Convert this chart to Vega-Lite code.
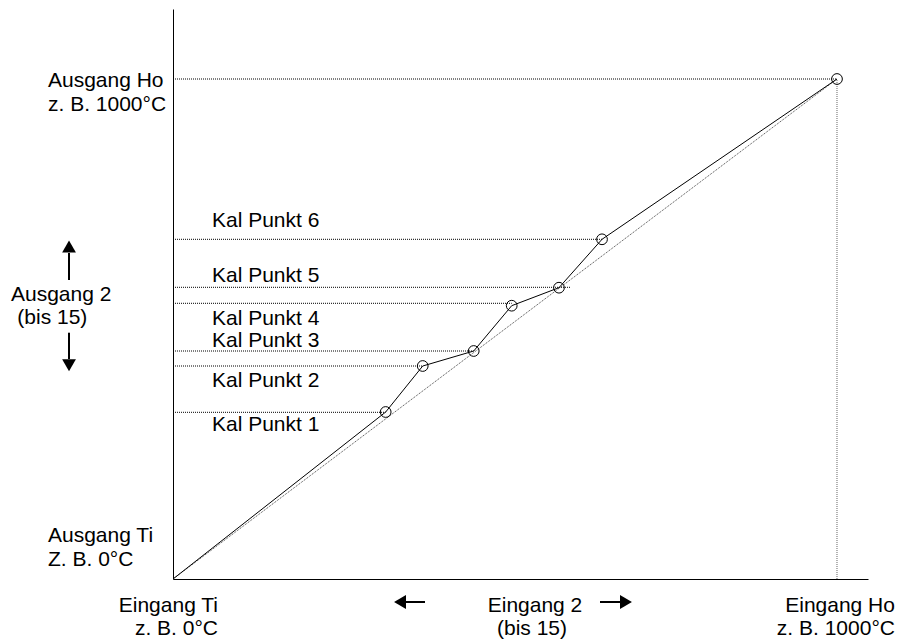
{
  "$schema": "https://vega.github.io/schema/vega-lite/v6.json",
  "width": 695,
  "height": 570,
  "autosize": {"type": "none"},
  "padding": {"left": 173, "top": 9, "right": 32, "bottom": 60},
  "background": "white",
  "config": {
    "view": {"stroke": null},
    "text": {"font": "Liberation Sans", "fontSize": 21, "color": "#000"}
  },
  "datasets": {
    "kal": [
      {"x": 0, "y": 0},
      {"x": 320.3, "y": 334},
      {"x": 376.1, "y": 426},
      {"x": 452.9, "y": 456},
      {"x": 510.1, "y": 546.6},
      {"x": 581.3, "y": 582.6},
      {"x": 646.1, "y": 679.4},
      {"x": 1000, "y": 1000}
    ],
    "diag": [{"x": 0, "y": 0}, {"x": 1000, "y": 1000}],
    "hlines": [
      {"x": 0, "x2": 1000, "y": 1000},
      {"x": 0, "x2": 646.1, "y": 679.4},
      {"x": 0, "x2": 597.9, "y": 583.4},
      {"x": 0, "x2": 510.1, "y": 551.4},
      {"x": 0, "x2": 452.9, "y": 456},
      {"x": 0, "x2": 376.1, "y": 426},
      {"x": 0, "x2": 320.3, "y": 333.4}
    ],
    "vline": [{"x": 1000, "y": 0, "y2": 1000}],
    "vshafts": [
      {"x": -156.6, "y": 598, "y2": 652},
      {"x": -156.6, "y": 492.6, "y2": 440}
    ],
    "hshafts": [
      {"x": 350.9, "x2": 379.5, "y": -46},
      {"x": 643.1, "x2": 673.2, "y": -46}
    ],
    "heads": [
      {"x": -156.6, "y": 665, "dir": "up"},
      {"x": -156.6, "y": 427.4, "dir": "down"},
      {"x": 341.9, "y": -46, "dir": "left"},
      {"x": 682.2, "y": -46, "dir": "right"}
    ],
    "textLeft": [
      {"x": -188.3, "y": 984, "label": "Ausgang Ho"},
      {"x": -188.3, "y": 937, "label": "z. B. 1000°C"},
      {"x": -188.3, "y": 73.4, "label": "Ausgang Ti"},
      {"x": -188.3, "y": 26.6, "label": "Z. B. 0°C"},
      {"x": -244, "y": 556, "label": "Ausgang 2"},
      {"x": -234.5, "y": 510, "label": "(bis 15)"},
      {"x": 58.7, "y": 704.6, "label": "Kal Punkt 6"},
      {"x": 58.7, "y": 594.6, "label": "Kal Punkt 5"},
      {"x": 58.7, "y": 509, "label": "Kal Punkt 4"},
      {"x": 58.7, "y": 463.6, "label": "Kal Punkt 3"},
      {"x": 58.7, "y": 384.6, "label": "Kal Punkt 2"},
      {"x": 58.7, "y": 296, "label": "Kal Punkt 1"}
    ],
    "textRight": [
      {"x": 67.8, "y": -66, "label": "Eingang Ti"},
      {"x": 67.8, "y": -112, "label": "z. B. 0°C"},
      {"x": 1087.3, "y": -66, "label": "Eingang Ho"},
      {"x": 1087.3, "y": -112, "label": "z. B. 1000°C"}
    ],
    "textCenter": [
      {"x": 545.2, "y": -66, "label": "Eingang 2"},
      {"x": 540.7, "y": -112, "label": "(bis 15)"}
    ]
  },
  "encoding": {
    "x": {
      "field": "x",
      "type": "quantitative",
      "scale": {"domain": [0, 1046.7], "nice": false, "zero": false},
      "axis": {"domain": true, "ticks": false, "labels": false, "grid": false, "title": null, "domainColor": "#000", "domainWidth": 1}
    },
    "y": {
      "field": "y",
      "type": "quantitative",
      "scale": {"domain": [0, 1140], "nice": false, "zero": false},
      "axis": {"domain": true, "ticks": false, "labels": false, "grid": false, "title": null, "domainColor": "#000", "domainWidth": 1}
    }
  },
  "layer": [
    {
      "data": {"name": "hlines"},
      "mark": {"type": "rule", "color": "#000", "strokeWidth": 1, "strokeDash": [1, 1]},
      "encoding": {"x2": {"field": "x2"}}
    },
    {
      "data": {"name": "vline"},
      "mark": {"type": "rule", "color": "#666", "strokeWidth": 1, "strokeDash": [1, 1]},
      "encoding": {"y2": {"field": "y2"}}
    },
    {
      "data": {"name": "diag"},
      "mark": {"type": "line", "color": "#444", "strokeWidth": 1, "strokeDash": [1, 1]},
      "encoding": {}
    },
    {
      "data": {"name": "kal"},
      "mark": {"type": "line", "color": "#000", "strokeWidth": 1},
      "encoding": {}
    },
    {
      "data": {"name": "kal"},
      "transform": [{"filter": "datum.x > 0"}],
      "mark": {"type": "point", "shape": "circle", "filled": false, "stroke": "#000", "strokeWidth": 1, "size": 115, "opacity": 1}
    },
    {
      "data": {"name": "vshafts"},
      "mark": {"type": "rule", "color": "#000", "strokeWidth": 2},
      "encoding": {"y2": {"field": "y2"}}
    },
    {
      "data": {"name": "hshafts"},
      "mark": {"type": "rule", "color": "#000", "strokeWidth": 2},
      "encoding": {"x2": {"field": "x2"}}
    },
    {
      "data": {"name": "heads"},
      "mark": {"type": "point", "filled": true, "color": "#000", "size": 190, "opacity": 1},
      "encoding": {
        "shape": {
          "field": "dir",
          "type": "nominal",
          "scale": {"domain": ["up", "down", "left", "right"], "range": ["triangle-up", "triangle-down", "triangle-left", "triangle-right"]},
          "legend": null
        }
      }
    },
    {
      "data": {"name": "textLeft"},
      "mark": {"type": "text", "align": "left", "baseline": "alphabetic"},
      "encoding": {"text": {"field": "label"}}
    },
    {
      "data": {"name": "textRight"},
      "mark": {"type": "text", "align": "right", "baseline": "alphabetic"},
      "encoding": {"text": {"field": "label"}}
    },
    {
      "data": {"name": "textCenter"},
      "mark": {"type": "text", "align": "center", "baseline": "alphabetic"},
      "encoding": {"text": {"field": "label"}}
    }
  ]
}
